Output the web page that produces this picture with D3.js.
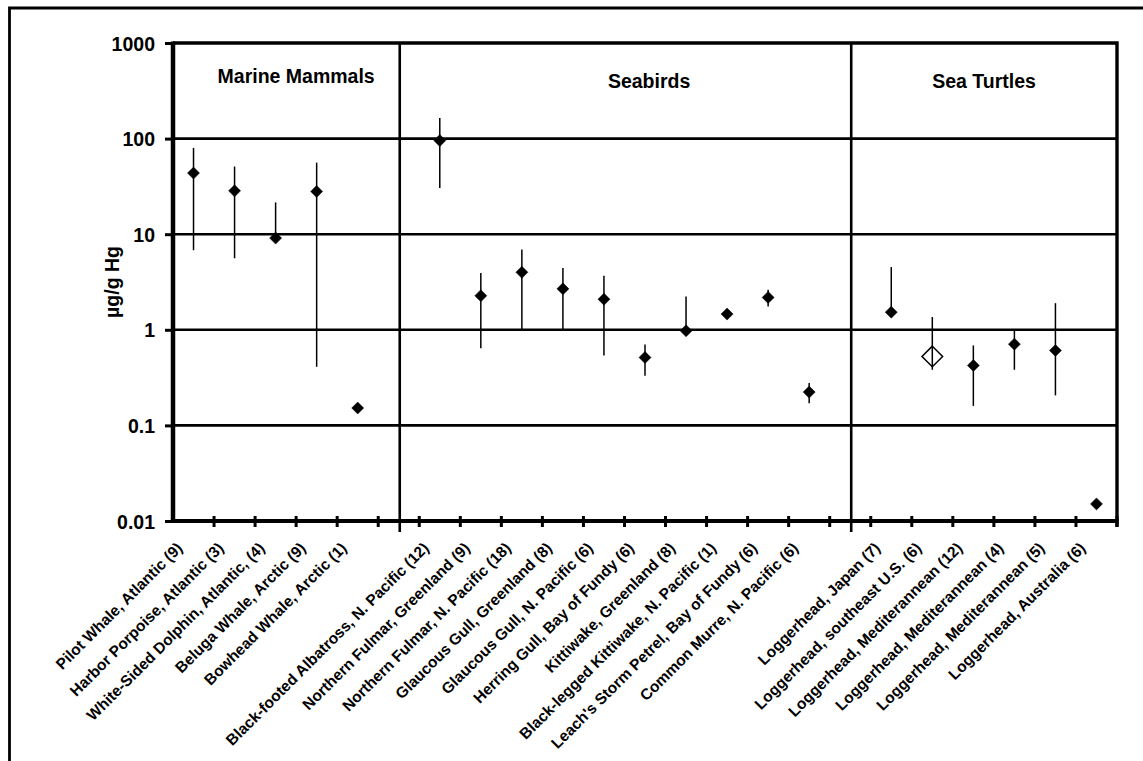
<!DOCTYPE html>
<html>
<head>
<meta charset="utf-8">
<script src="https://cdn.jsdelivr.net/npm/d3@7"></script>
<style>
  html, body { margin: 0; padding: 0; background: #fff; }
  svg { display: block; }
  text { font-family: "Liberation Sans", Arial, Helvetica, sans-serif; font-weight: bold; fill: #000; }
</style>
</head>
<body>
<svg id="chart" width="1143" height="761"></svg>
<script>
// Mercury concentrations (µg/g Hg): mean with reported range, by species/location (n)
const groupNames = ["Marine Mammals", "Seabirds", "Sea Turtles"];

const mammalLabels = [
  "Pilot Whale, Atlantic (9)",
  "Harbor Porpoise, Atlantic (3)",
  "White-Sided Dolphin, Atlantic, (4)",
  "Beluga Whale, Arctic (9)",
  "Bowhead Whale, Arctic (1)"
];
const mammalMean = [43.6, 28.4, 9.1, 28, 0.152];
const mammalLow  = [6.8, 5.6, null, 0.41, null];
const mammalHigh = [80, 51, 21.5, 56, null];

const seabirdLabels = [
  "Black-footed Albatross, N. Pacific (12)",
  "Northern Fulmar, Greenland (9)",
  "Northern Fulmar, N. Pacific (18)",
  "Glaucous Gull, Greenland (8)",
  "Glaucous Gull, N. Pacific (6)",
  "Herring Gull, Bay of Fundy (6)",
  "Kittiwake, Greenland (8)",
  "Black-legged Kittiwake, N. Pacific (1)",
  "Leach's Storm Petrel, Bay of Fundy (6)",
  "Common Murre, N. Pacific (6)"
];
const seabirdMean = [95.5, 2.27, 4.0, 2.68, 2.09, 0.513, 0.976, 1.46, 2.18, 0.223];
const seabirdLow  = [30.4, 0.64, 1.0, 0.98, 0.54, 0.33, null, null, 1.75, 0.171];
const seabirdHigh = [164, 3.92, 6.9, 4.42, 3.67, 0.70, 2.23, null, 2.62, 0.277];

const turtleLabels = [
  "Loggerhead, Japan (7)",
  "Loggerhead, southeast U.S. (6)",
  "Loggerhead, Mediterannean (12)",
  "Loggerhead, Mediterannean (4)",
  "Loggerhead, Mediterannean (5)",
  "Loggerhead, Australia (6)"
];
const turtleMean = [1.53, 0.526, 0.424, 0.708, 0.608, 0.0151];
const turtleLow  = [null, 0.382, 0.16, 0.382, 0.206, null];
const turtleHigh = [4.53, 1.36, 0.686, 1.0, 1.9, null];
const turtleOpenMarker = [false, true, false, false, false, false];

const yTickValues = [0.01, 0.1, 1, 10, 100, 1000];
const yTickLabels = ["0.01", "0.1", "1", "10", "100", "1000"];
const yAxisTitle = "µg/g Hg";

// ---- build the slot list: each group followed by an empty separator slot ----
const groups = [
  { name: groupNames[0], labels: mammalLabels, mean: mammalMean, low: mammalLow, high: mammalHigh },
  { name: groupNames[1], labels: seabirdLabels, mean: seabirdMean, low: seabirdLow, high: seabirdHigh },
  { name: groupNames[2], labels: turtleLabels, mean: turtleMean, low: turtleLow, high: turtleHigh, open: turtleOpenMarker }
];
const slots = [];
const separators = [];
groups.forEach((g, gi) => {
  g.start = slots.length;
  g.labels.forEach((lab, i) => {
    slots.push({ id: slots.length, label: lab, mean: g.mean[i], low: g.low[i], high: g.high[i],
                 open: g.open ? g.open[i] : false });
  });
  g.end = slots.length;
  if (gi < groups.length - 1) {
    separators.push(slots.length);
    slots.push({ id: slots.length, label: "", mean: null });
  }
});

// ---- layout ----
const svg = d3.select("#chart");
const W = 1143, H = 761;
const plot = { left: 173, right: 1117, top: 43, bottom: 521 };

svg.append("rect").attr("width", W).attr("height", H).attr("fill", "#fff");

// outer frame (runs off the right and bottom of the page)
svg.append("path")
  .attr("d", `M9.5,${H + 5} L9.5,8 L${W + 5},8`)
  .attr("fill", "none").attr("stroke", "#000").attr("stroke-width", 2.8);

const x = d3.scaleBand().domain(slots.map(d => d.id)).range([plot.left, plot.right]).padding(0);
const y = d3.scaleLog().domain([0.01, 1000]).range([plot.bottom, plot.top]);

// horizontal gridlines at each decade
svg.append("g").selectAll("line").data(yTickValues.filter(v => v > 0.01 && v < 1000)).join("line")
  .attr("x1", plot.left).attr("x2", plot.right)
  .attr("y1", d => y(d)).attr("y2", d => y(d))
  .attr("stroke", "#000").attr("stroke-width", 2.6);

// group separators
svg.append("g").selectAll("line").data(separators).join("line")
  .attr("x1", d => x(d) + x.bandwidth() / 2 + 1).attr("x2", d => x(d) + x.bandwidth() / 2 + 1)
  .attr("y1", plot.top).attr("y2", plot.bottom + 11)
  .attr("stroke", "#000").attr("stroke-width", 2.6);

// plot frame: top and right
svg.append("path")
  .attr("d", `M${plot.left},${plot.top} L${plot.right},${plot.top} L${plot.right},${plot.bottom + 6}`)
  .attr("fill", "none").attr("stroke", "#000").attr("stroke-width", 3.4);

// y axis
const yAxis = d3.axisLeft(y).tickValues(yTickValues)
  .tickFormat((d, i) => yTickLabels[i]).tickSize(8).tickPadding(10);
const gy = svg.append("g").attr("transform", `translate(${plot.left},0)`).call(yAxis);
gy.select(".domain").attr("stroke", "#000").attr("stroke-width", 4.5)
  .attr("d", `M0,${plot.top - 1.5}V${plot.bottom + 2}`);
gy.selectAll(".tick line").attr("stroke", "#000").attr("stroke-width", 3);
gy.selectAll(".tick text").attr("font-size", 19.5).attr("fill", "#000")
  .attr("font-family", "'Liberation Sans', Arial, sans-serif").attr("font-weight", "bold")
  .attr("dy", "0.36em");

// x axis: ticks at slot boundaries
const boundaries = slots.map(d => x(d.id)).concat([plot.right]);
svg.append("line")
  .attr("x1", plot.left - 2).attr("x2", plot.right + 1.5)
  .attr("y1", plot.bottom).attr("y2", plot.bottom)
  .attr("stroke", "#000").attr("stroke-width", 4);
svg.append("g").selectAll("line").data(boundaries.slice(1)).join("line")
  .attr("x1", d => d).attr("x2", d => d)
  .attr("y1", plot.bottom - 5).attr("y2", plot.bottom + 6)
  .attr("stroke", "#000").attr("stroke-width", 3);

// category labels, rotated
svg.append("g").selectAll("text").data(slots.filter(d => d.label)).join("text")
  .attr("transform", d => `translate(${x(d.id) + x.bandwidth() / 2 - 10},${plot.bottom + 28}) rotate(-45)`)
  .attr("text-anchor", "end")
  .attr("font-size", 15.5)
  .text(d => d.label);

// group titles
const titleX = [x(3), x(11) + 0.6 * x.bandwidth(), x(19) + 0.76 * x.bandwidth()];
const titleY = [83, 88, 88];
svg.append("g").selectAll("text").data(groups).join("text")
  .attr("x", (d, i) => titleX[i]).attr("y", (d, i) => titleY[i])
  .attr("text-anchor", "middle").attr("font-size", 19.5)
  .text(d => d.name);

// y axis title
svg.append("text")
  .attr("transform", `translate(119,${(plot.top + plot.bottom) / 2}) rotate(-90)`)
  .attr("text-anchor", "middle").attr("font-size", 19.5)
  .text(yAxisTitle);

// error bars
const pts = slots.filter(d => d.mean != null);
svg.append("g").selectAll("line").data(pts.filter(d => d.low != null || d.high != null)).join("line")
  .attr("x1", d => x(d.id) + x.bandwidth() / 2).attr("x2", d => x(d.id) + x.bandwidth() / 2)
  .attr("y1", d => y(d.high != null ? d.high : d.mean))
  .attr("y2", d => y(d.low != null ? d.low : d.mean))
  .attr("stroke", "#000").attr("stroke-width", 1.5);

// mean markers (diamonds)
const diamond = r => `M0,${-r}L${r},0L0,${r}L${-r},0Z`;
svg.append("g").selectAll("path").data(pts).join("path")
  .attr("transform", d => `translate(${x(d.id) + x.bandwidth() / 2},${y(d.mean)})`)
  .attr("d", d => d.open ? diamond(10.3) : diamond(6))
  .attr("fill", d => d.open ? "none" : "#000")
  .attr("stroke", "#000")
  .attr("stroke-width", d => d.open ? 1.5 : 0.5);
</script>
</body>
</html>
